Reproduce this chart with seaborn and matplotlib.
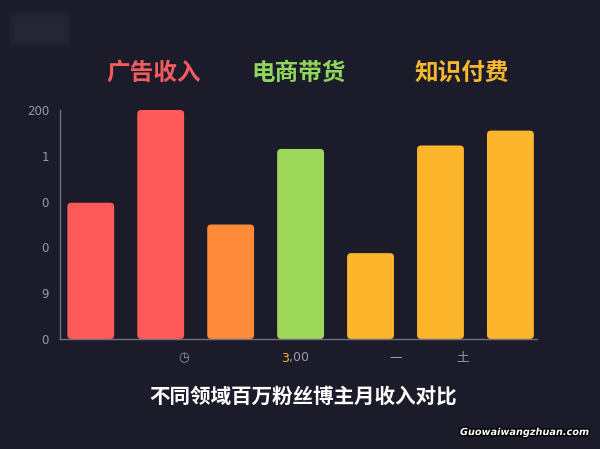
import numpy as np
import matplotlib
matplotlib.use("Agg")
import matplotlib.pyplot as plt
import matplotlib.patheffects as pe
import seaborn as sns
from matplotlib.patches import FancyBboxPatch

# data
bar_ids = ["广告1", "广告2", "广告3", "电商", "知识1", "知识2", "知识3"]
bar_values = [119, 200, 100, 166, 75, 169, 182]
bar_colors = ["#FF5A5A", "#FF5A5A", "#FF8A3A", "#9ED85A", "#FDB52B", "#FDB52B", "#FDB52B"]

ytick_values = [0, 40, 80, 120, 160, 200]
ytick_labels = ["0", "9", "0", "0", "1", "200"]

group_titles = ["广告收入", "电商带货", "知识付费"]
group_colors = ["#F25C5C", "#8FD65A", "#F5B82E"]

caption = "不同领域百万粉丝博主月收入对比"
watermark = "Guowaiwangzhuan.com"

bg = "#1B1B29"
grey = "#9A9AA8"

sns.set_theme(style="dark")
plt.rcParams["font.family"] = ["Noto Sans CJK SC", "DejaVu Sans"]

fig = plt.figure(figsize=(6, 4.49), dpi=100, facecolor=bg)
ax = fig.add_axes([0.1, 0.245, 0.795, 0.51], facecolor=bg)

sns.barplot(x=bar_ids, y=bar_values, hue=bar_ids, palette=bar_colors,
            legend=False, width=0.67, ax=ax, saturation=1)

ax.set_xlim(-0.44, 6.38)
ax.set_ylim(0, 200)

# swap plain bars for rounded ones
x_per_px = (6.38 + 0.44) / (0.795 * 600)
y_per_px = 200 / (0.51 * 449)
for p in list(ax.patches):
    x, y = p.get_x(), p.get_y()
    w, h = p.get_width(), p.get_height()
    fc = p.get_facecolor()
    p.remove()
    r = FancyBboxPatch((x, y), w, h,
                       boxstyle="round,pad=0,rounding_size=%f" % (4 * x_per_px),
                       mutation_aspect=y_per_px / x_per_px,
                       facecolor=fc, edgecolor="none", clip_on=False, zorder=2)
    ax.add_patch(r)

for s in ["top", "right"]:
    ax.spines[s].set_visible(False)
for s in ["left", "bottom"]:
    ax.spines[s].set_color("#70707E")
    ax.spines[s].set_linewidth(1)

ax.set_yticks(ytick_values)
ax.set_yticklabels(ytick_labels, color=grey, fontsize=8.5, family=["DejaVu Sans"])
ax.tick_params(axis="y", length=5, width=1, color="#70707E", pad=3)
ax.set_xticks([])
ax.set_xlabel("")
ax.set_ylabel("")
ax.grid(False)

# garbled x labels under the axis
fig.text(184 / 600, 1 - 358 / 449, "◷", color=grey, fontsize=9, ha="center", va="center")
fig.text(289 / 600, 1 - 358 / 449, "3", color="#F5B82E", fontsize=9, ha="right", va="center",
         family=["DejaVu Sans"])
fig.text(289 / 600, 1 - 358 / 449, ",00", color=grey, fontsize=9, ha="left", va="center",
         family=["DejaVu Sans"])
fig.text(396 / 600, 1 - 358 / 449, "一", color=grey, fontsize=9, ha="center", va="center")
fig.text(463 / 600, 1 - 358 / 449, "土", color=grey, fontsize=9, ha="center", va="center")

# group titles
for t, c, px in zip(group_titles, group_colors, [154, 299, 462]):
    fig.text(px / 600, 1 - 73 / 449, t, color=c, fontsize=17, fontweight="bold",
             ha="center", va="center")

fig.text(303 / 600, 1 - 397 / 449, caption, color="white", fontsize=14.8,
         fontweight="bold", ha="center", va="center")

wm = fig.text(590 / 600, 1 - 432 / 449, watermark, color="white", fontsize=7,
              fontweight="bold", style="italic", ha="right", va="center",
              family=["DejaVu Sans"])
wm.set_path_effects([pe.withStroke(linewidth=2, foreground="black")])

# faint blurred blob top-left
for i, a in enumerate([0.25, 0.3, 0.35]):
    fig.patches.append(FancyBboxPatch(((12 + 3 * i) / 600, 1 - (44 - 3 * i) / 449),
                                      (55 - 6 * i) / 600, (30 - 6 * i) / 449,
                                      boxstyle="round,pad=0.005", transform=fig.transFigure,
                                      facecolor="#2C2C3A", edgecolor="none", alpha=a))

fig.savefig("out.png", dpi=100, facecolor=bg)
